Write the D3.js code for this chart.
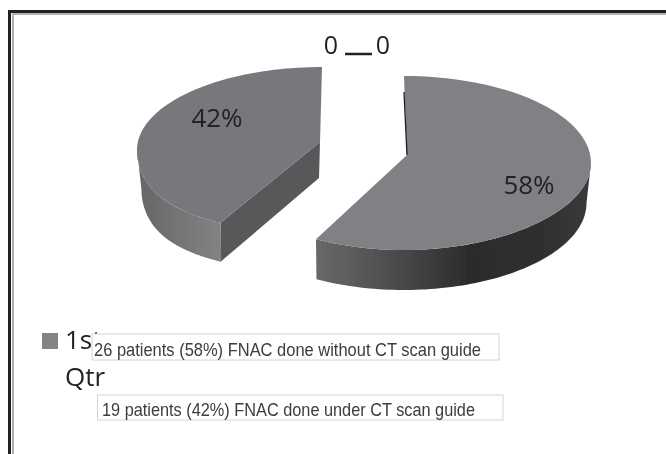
<!DOCTYPE html>
<html>
<head>
<meta charset="utf-8">
<script src="https://cdn.jsdelivr.net/npm/d3@7"></script>
<style>
html, body { margin: 0; padding: 0; background: #fff; }
svg { display: block; }
</style>
</head>
<body>
<script>
var w = 666;
var h = 454;

// values
var categories = ["26 patients (58%) FNAC done without CT scan guide", "19 patients (42%) FNAC done under CT scan guide"];
var percents = [58, 42];
var zeroLabels = ["0", "0"];
var legendLines = ["1st", "Qtr"];

var svg = d3.select("body").append("svg")
    .attr("width", w)
    .attr("height", h);

var defs = svg.append("defs");
defs.append("filter").attr("id", "soft")
    .attr("x", "-5%").attr("y", "-5%").attr("width", "110%").attr("height", "110%")
    .append("feGaussianBlur").attr("stdDeviation", 0.55);

function gradient(id, x1, x2, stops) {
    var g = defs.append("linearGradient").attr("id", id)
        .attr("gradientUnits", "userSpaceOnUse")
        .attr("x1", x1).attr("x2", x2).attr("y1", 0).attr("y2", 0);
    stops.forEach(function(s) {
        g.append("stop").attr("offset", s[0]).attr("stop-color", s[1]);
    });
}
gradient("rimRight", 317, 591, [[0, "#686868"], [0.3, "#4a4a4a"], [0.55, "#2c2c2c"], [0.8, "#2e2e2e"], [1, "#3a3a3a"]]);
gradient("rimLeft", 137, 219, [[0, "#666666"], [1, "#828282"]]);

var root = svg.append("g").attr("filter", "url(#soft)");

// frame, only the top and left lines are in the crop
root.append("path")
    .attr("d", "M13,460V14H670")
    .attr("fill", "none")
    .attr("stroke", "#b0b0b0").attr("stroke-width", 2);
root.append("path")
    .attr("d", "M9.5,460V11.5H670")
    .attr("fill", "none")
    .attr("stroke", "#222").attr("stroke-width", 3);

// each slice is exploded on its own, so each has its own ellipse
var sliceGeo = [
    {cx: 404, cy: 163, apexX: 407, apexY: 155, rx: 187, ry: 87, depth: 40, flare: -0.03, top: "#808185", rim: "url(#rimRight)"},
    {cx: 322, cy: 150, apexX: 320, apexY: 142, rx: 185, ry: 83, depth: 39, flare: 0.18, top: "#77787c", rim: "url(#rimLeft)"}
];
var taper = 0.024; // lower rim is a bit narrower than the upper one

var pie = d3.pie().sort(null);
var arcs = pie(percents);

function project(g, a, drop) {
    var s = Math.sin(a), c = Math.cos(a);
    var front = c < 0 ? c * c : 0;
    var shrink = drop ? taper * s * s * drop / g.depth : 0;
    return [
        g.cx + g.rx * s * (1 + g.flare * front) * (1 - shrink),
        g.cy - g.ry * c + drop
    ];
}

var line = d3.line();

function rimPoints(g, a0, a1, drop) {
    return d3.range(0, 81).map(function(i) {
        return project(g, a0 + (a1 - a0) * i / 80, drop);
    });
}

// left slice first, right slice sits over it
[1, 0].forEach(function(i) {
    var d = arcs[i];
    var g = sliceGeo[i];
    var s = root.append("g").attr("class", "slice");

    if (i == 1) { // cut face looking at the viewer
        var c = project(g, d.startAngle, 0);
        s.append("path")
            .attr("d", line([[g.apexX, g.apexY], c, [c[0], c[1] + g.depth], [g.apexX - 1, g.apexY + g.depth - 3]]) + "Z")
            .attr("fill", "#57585a");
    }

    // outer wall, only the front half of the ellipse shows
    var a0 = Math.max(d.startAngle, Math.PI / 2);
    var a1 = Math.min(d.endAngle, Math.PI * 3 / 2);
    var topEdge = rimPoints(g, a0, a1, 0);
    var lowEdge = rimPoints(g, a0, a1, g.depth).reverse();
    s.append("path")
        .attr("d", line(topEdge.concat(lowEdge)) + "Z")
        .attr("fill", g.rim);

    // top face
    s.append("path")
        .attr("d", line([[g.apexX, g.apexY]].concat(rimPoints(g, d.startAngle, d.endAngle, 0))) + "Z")
        .attr("fill", g.top);
});

// thin dark back edge of the right slice
var backTop = project(sliceGeo[0], 0, 16);
root.append("path")
    .attr("d", line([backTop, [sliceGeo[0].apexX, sliceGeo[0].apexY]]))
    .attr("stroke", "#1c1c1c").attr("stroke-width", 1.3).attr("fill", "none");

// percent labels
var labelPos = [[529, 194], [217, 127]];
root.selectAll("text.pct")
    .data(percents)
    .enter()
    .append("text")
    .attr("class", "pct")
    .attr("x", function(d, i) { return labelPos[i][0]; })
    .attr("y", function(d, i) { return labelPos[i][1]; })
    .attr("text-anchor", "middle")
    .attr("font-family", "Open Sans")
    .attr("font-size", 26)
    .attr("fill", "#222")
    .text(function(d) { return d + "%"; });

// the two zero labels and their leader
var zeroX = [331, 383];
root.selectAll("text.zero")
    .data(zeroLabels)
    .enter()
    .append("text")
    .attr("class", "zero")
    .attr("x", function(d, i) { return zeroX[i]; })
    .attr("y", 54)
    .attr("text-anchor", "middle")
    .attr("font-family", "Open Sans")
    .attr("font-size", 25)
    .attr("fill", "#222")
    .text(function(d) { return d; });
root.append("line")
    .attr("x1", 345).attr("x2", 372).attr("y1", 54).attr("y2", 54)
    .attr("stroke", "#222").attr("stroke-width", 2.5);

// legend, with the pasted boxes on top
root.append("rect")
    .attr("x", 42).attr("y", 333).attr("width", 16).attr("height", 16)
    .attr("fill", "#848488");
var legendY = [349, 386];
root.selectAll("text.legend")
    .data(legendLines)
    .enter()
    .append("text")
    .attr("class", "legend")
    .attr("x", 65)
    .attr("y", function(d, i) { return legendY[i]; })
    .attr("font-family", "Open Sans")
    .attr("font-size", 26)
    .attr("fill", "#222")
    .text(function(d) { return d; });

var boxes = [
    {x: 92, y: 334, w: 407, h: 26, tx: 94, ty: 356, len: 387},
    {x: 97.5, y: 395, w: 405.5, h: 25, tx: 102, ty: 416, len: 373}
];
var notes = root.selectAll("g.note")
    .data(categories)
    .enter()
    .append("g")
    .attr("class", "note");
notes.append("rect")
    .attr("x", function(d, i) { return boxes[i].x; })
    .attr("y", function(d, i) { return boxes[i].y; })
    .attr("width", function(d, i) { return boxes[i].w; })
    .attr("height", function(d, i) { return boxes[i].h; })
    .attr("fill", "#fff")
    .attr("stroke", "#d4d4d4");
notes.append("text")
    .attr("x", function(d, i) { return boxes[i].tx; })
    .attr("y", function(d, i) { return boxes[i].ty; })
    .attr("font-family", "Liberation Sans")
    .attr("font-size", 18.5)
    .attr("fill", "#3c3c3c")
    .attr("textLength", function(d, i) { return boxes[i].len; })
    .attr("lengthAdjust", "spacingAndGlyphs")
    .text(function(d) { return d; });
</script>
</body>
</html>
